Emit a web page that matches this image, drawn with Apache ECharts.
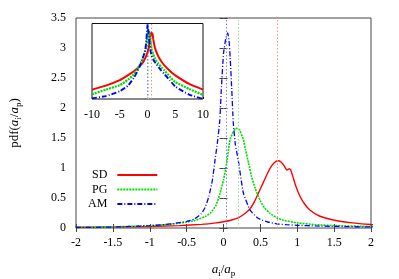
<!DOCTYPE html>
<html>
<head>
<meta charset="utf-8">
<script src="https://cdn.jsdelivr.net/npm/echarts@6/dist/echarts.min.js"></script>
<style>html,body{margin:0;padding:0;background:#fff;}#c{width:399px;height:279px;}</style>
</head>
<body>
<div id="c"></div>
<script>
// ---- data ----
const seriesNames = ['SD', 'PG', 'AM'];
const sdX = [-10,-7.5,-5,-3.5,-2.5,-2,-1.5,-1,-0.6,-0.3,-0.1,0,0.1,0.2,0.3,0.36,0.42,0.48,0.54,0.6,0.65,0.7,0.74,0.78,0.82,0.85,0.87,0.89,0.91,0.94,0.98,1.04,1.1,1.17,1.3,1.49,1.75,2,2.5,3,4,5,7.5,10];
const sdY = [0.0011,0.0018,0.0035,0.0065,0.01,0.013,0.018,0.026,0.04,0.06,0.085,0.105,0.13,0.17,0.25,0.32,0.44,0.6,0.76,0.92,1.03,1.1,1.12,1.1,1.04,0.98,0.97,0.99,0.97,0.86,0.7,0.52,0.4,0.3,0.2,0.133,0.085,0.058,0.034,0.022,0.011,0.0062,0.0022,0.0011];
const pgX = [-10,-7.5,-5,-3.5,-2.5,-2,-1.5,-1,-0.7,-0.4,-0.25,-0.18,-0.1,-0.047,0,0.043,0.088,0.13,0.16,0.19,0.22,0.27,0.3,0.34,0.38,0.43,0.5,0.56,0.63,0.72,0.81,1,1.26,1.5,2,2.5,3,4,5,7.5,10];
const pgY = [0.00062,0.0011,0.0019,0.0037,0.007,0.011,0.019,0.038,0.065,0.12,0.19,0.245,0.38,0.58,0.8,1.08,1.47,1.6,1.65,1.66,1.63,1.47,1.3,1.08,0.86,0.66,0.45,0.33,0.245,0.17,0.13,0.085,0.055,0.04,0.025,0.017,0.012,0.0055,0.0028,0.0012,0.00057];
const amX = [-10,-7.5,-5,-3.5,-2.5,-2,-1.5,-1,-0.7,-0.5,-0.4,-0.3,-0.25,-0.2,-0.15,-0.115,-0.08,-0.05,-0.03,0,0.03,0.057,0.075,0.09,0.11,0.133,0.16,0.2,0.27,0.36,0.45,0.5,0.6,0.72,0.85,1,1.25,1.5,2,2.5,3,4,5,7.5,10];
const amY = [0.00038,0.0005,0.0009,0.0018,0.0045,0.008,0.016,0.038,0.07,0.11,0.145,0.24,0.34,0.52,0.8,1.13,1.45,1.8,2.3,2.91,3.15,3.25,3.12,2.85,2.36,1.75,1.4,1.13,0.58,0.3,0.18,0.145,0.1,0.07,0.055,0.045,0.034,0.027,0.017,0.011,0.0075,0.0035,0.0016,0.0006,0.00035];
const peakLines = [0.73, 0.2, 0.045]; // SD, PG, AM vertical dotted markers
const mainX = {min: -2, max: 2, interval: 0.5};
const mainY = {min: 0, max: 3.5, interval: 0.5};
const insetX = {min: -10, max: 10, interval: 5};
const insetY = {min: 0.00035, max: 3.5};

// ---- styles ----
const FONT = 'Liberation Serif';
const colors = ['#ff0000', '#00dd00', '#0000ff'];
const markColors = ['#ff8c8c', '#8fe88f', '#8080ff'];
const dashes = ['solid', [2, 1], [5, 2, 1, 2]];
const widths = [1.4, 1.6, 1.3];
const xs = [sdX, pgX, amX];
const ys = [sdY, pgY, amY];
const pairs = i => xs[i].map((x, k) => [x, ys[i][k]]);

const axisNameRich = {
  r: {fontFamily: FONT, fontSize: 13, color: '#000'},
  i: {fontFamily: FONT, fontSize: 13, fontStyle: 'italic', color: '#000'},
  s: {fontFamily: FONT, fontSize: 9, color: '#000', padding: [7, 0, 0, 0]}
};

const series = [];
[0, 1, 2].forEach(i => {
  series.push({
    name: seriesNames[i], type: 'line', xAxisIndex: 0, yAxisIndex: 0,
    data: pairs(i), symbol: 'none', smooth: 0.15, clip: true, z: 3,
    lineStyle: {color: colors[i], width: widths[i], type: dashes[i]},
    itemStyle: {color: colors[i]},
    emphasis: {disabled: true},
    markLine: {silent: true, symbol: 'none', animation: false, label: {show: false},
      lineStyle: {color: markColors[i], width: 1, type: [1.5, 2]},
      data: [{xAxis: peakLines[i]}]}
  });
});
[0, 1, 2].forEach(i => {
  series.push({
    name: seriesNames[i], type: 'line', xAxisIndex: 2, yAxisIndex: 2,
    data: pairs(i), symbol: 'none', smooth: 0.15, clip: true, z: 5,
    lineStyle: {color: colors[i], width: widths[i] + 0.6, type: dashes[i]},
    itemStyle: {color: colors[i]},
    emphasis: {disabled: true},
    markLine: {silent: true, symbol: 'none', animation: false, label: {show: false},
      lineStyle: {color: markColors[i], width: 1, type: [1.5, 2]},
      data: [{xAxis: peakLines[i]}]}
  });
});

const tickStyle = {show: true, inside: true, length: 4, lineStyle: {color: '#444', width: 1}};
const option = {
  animation: false,
  backgroundColor: '#fff',
  grid: [
    {left: 76, top: 18, width: 295, height: 210, show: true, borderColor: '#444', borderWidth: 1, backgroundColor: 'transparent', outerBoundsMode: 'none', containLabel: false},
    {left: 92, top: 23.5, width: 111, height: 75.5, show: true, borderColor: '#111', borderWidth: 1, backgroundColor: '#fff', outerBoundsMode: 'none', containLabel: false, z: 4}
  ],
  xAxis: [
    {type: 'value', gridIndex: 0, min: mainX.min, max: mainX.max, interval: mainX.interval,
      axisLine: {show: false}, axisTick: tickStyle, splitLine: {show: false},
      axisLabel: {color: '#000', fontFamily: FONT, fontSize: 12, margin: 9},
      name: '{i|a}{s|i}{r|/}{i|a}{s|p}', nameLocation: 'middle', nameGap: 34,
      nameTextStyle: {rich: axisNameRich}},
    {type: 'value', gridIndex: 0, position: 'top', min: mainX.min, max: mainX.max, interval: mainX.interval,
      axisLine: {show: false}, axisTick: tickStyle, splitLine: {show: false}, axisLabel: {show: false}},
    {type: 'value', gridIndex: 1, min: insetX.min, max: insetX.max, interval: insetX.interval,
      axisLine: {show: false}, axisTick: {show: true, inside: true, length: 2, lineStyle: {color: '#111'}},
      splitLine: {show: false},
      axisLabel: {color: '#000', fontFamily: FONT, fontSize: 12, margin: 10}}
  ],
  yAxis: [
    {type: 'value', gridIndex: 0, min: mainY.min, max: mainY.max, interval: mainY.interval,
      axisLine: {show: false}, axisTick: tickStyle, splitLine: {show: false},
      axisLabel: {color: '#000', fontFamily: FONT, fontSize: 12, margin: 10},
      name: '{r|pdf(}{i|a}{s|i}{r|/}{i|a}{s|p}{r|)}', nameLocation: 'middle', nameRotate: 90, nameGap: 53,
      nameTextStyle: {rich: axisNameRich}},
    {type: 'value', gridIndex: 0, position: 'right', min: mainY.min, max: mainY.max, interval: mainY.interval,
      axisLine: {show: false}, axisTick: tickStyle, splitLine: {show: false}, axisLabel: {show: false}},
    {type: 'log', gridIndex: 1, min: insetY.min, max: insetY.max,
      axisLine: {show: false}, axisTick: {show: false}, splitLine: {show: false}, axisLabel: {show: false}}
  ],
  legend: {
    data: seriesNames, orient: 'vertical', left: 83, top: 164, align: 'right',
    itemWidth: 40, itemHeight: 8, itemGap: 2.5, selectedMode: false,
    itemStyle: {opacity: 0},
    textStyle: {fontFamily: FONT, fontSize: 12, color: '#000', padding: [0, 5, 0, 0]}
  },
  series: series
};
const chart = echarts.init(document.getElementById('c'), null, {renderer: 'canvas'});
chart.setOption(option);
</script>
</body>
</html>
